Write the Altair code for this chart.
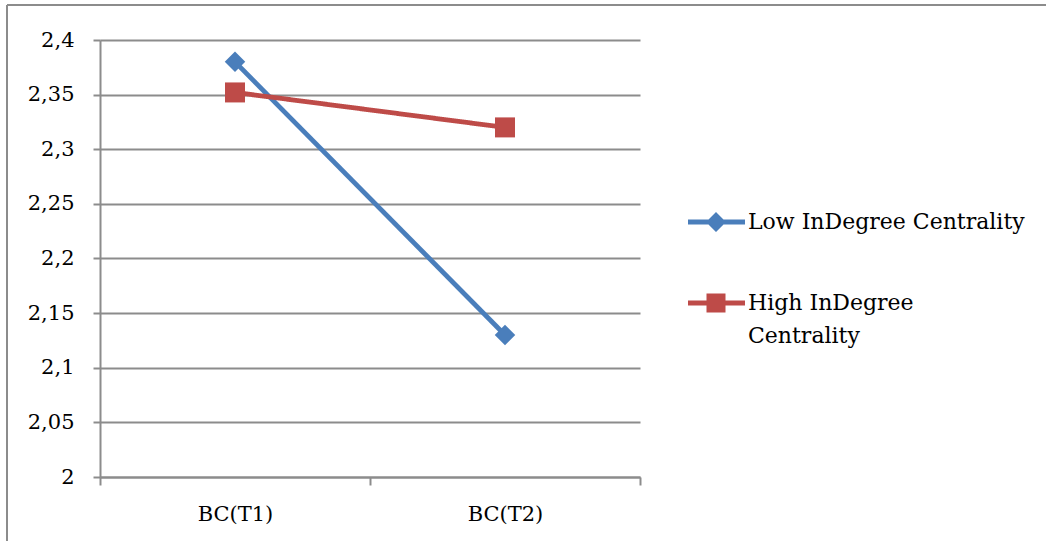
import altair as alt
import pandas as pd

# Chart values
periods = ["BC(T1)", "BC(T2)"]
series_names = ["Low InDegree Centrality", "High InDegree Centrality"]
low_values = [2.38, 2.13]
high_values = [2.352, 2.32]
y_ticks = [2.0, 2.05, 2.1, 2.15, 2.2, 2.25, 2.3, 2.35, 2.4]
series_colors = ["#4A7EBB", "#BE4B48"]

FONT = "DejaVu Serif"
GRAY = "#8c8c8c"

rows = []
for name, vals in zip(series_names, [low_values, high_values]):
    for p, v in zip(periods, vals):
        rows.append({"period": p, "series": name, "value": v})
df = pd.DataFrame(rows)

# Legend glyphs: a line stub with the series marker, drawn left of the label
LOW_GLYPH = "M-49,-2.5H8V2.5H-49Z M-21,-10L-11,0L-21,10L-31,0Z"
HIGH_GLYPH = "M-49,-2.5H8V2.5H-49Z M-30.5,-9.5H-11.5V9.5H-30.5Z"

x_enc = alt.X(
    "period:N",
    scale=alt.Scale(type="band", domain=periods, paddingInner=0, paddingOuter=0),
    bandPosition=0.5,
    axis=alt.Axis(title=None, labelAngle=0, tickBand="extent", grid=False,
                  tickSize=8, labelPadding=18),
)
y_enc = alt.Y(
    "value:Q",
    scale=alt.Scale(domain=[2, 2.4], nice=False, zero=False),
    axis=alt.Axis(title=None, values=y_ticks, grid=True, tickSize=7, labelPadding=19,
                  labelExpr="replace(toString(datum.value), '.', ',')"),
)

common_legend = dict(
    orient="none", legendX=626, symbolSize=4, symbolStrokeWidth=0,
    labelFont=FONT, labelFontSize=22, labelColor="black", labelOffset=0,
    labelLimit=400, padding=0,
)


def series_layer(name, color, shape, size, legend, wrap_legend=None):
    base = alt.Chart(df).transform_filter(alt.datum.series == name)
    scale = alt.Scale(domain=[name], range=[color])
    # tiny points that carry the series legend (hidden under the markers)
    keyed = base.mark_point(filled=True, size=4, opacity=1).encode(
        x=x_enc, y=y_enc, color=alt.Color("series:N", scale=scale, legend=legend)
    )
    line = base.mark_line(strokeWidth=4.8, color=color).encode(x=x_enc, y=y_enc)
    if wrap_legend is not None:
        # second line of a wrapped legend label, as a symbol-less legend row
        line = line.transform_calculate(wrap="'Centrality'").encode(
            strokeDash=alt.StrokeDash(
                "wrap:N",
                scale=alt.Scale(domain=["Centrality"], range=[[1, 0]]),
                legend=wrap_legend,
            )
        )
    markers = base.mark_point(
        filled=True, shape=shape, size=size, opacity=1, color=color
    ).encode(x=x_enc, y=y_enc)
    return alt.layer(keyed, line, markers)


low_layer = series_layer(
    series_names[0], series_colors[0], "diamond", 420,
    alt.Legend(title=None, legendY=171, symbolType=LOW_GLYPH, **common_legend),
)

high_layer = series_layer(
    series_names[1], series_colors[1], "square", 400,
    alt.Legend(title=None, legendY=252, labelExpr="'High InDegree'",
               symbolType=HIGH_GLYPH, **common_legend),
    wrap_legend=alt.Legend(title=None, legendY=285, symbolOpacity=0,
                           **common_legend),
)

# Outer frame of the figure
frame_data = alt.Data(values=[{}])
frame_left = alt.Chart(frame_data).mark_rule(color=GRAY, strokeWidth=2).encode(
    x=alt.value(-93), y=alt.value(-35), y2=alt.value(501)
)
frame_top = alt.Chart(frame_data).mark_rule(color=GRAY, strokeWidth=2).encode(
    x=alt.value(-93), x2=alt.value(946), y=alt.value(-35)
)

chart = (
    alt.layer(frame_left, frame_top, low_layer, high_layer)
    .resolve_scale(color="independent")
    .properties(
        width=540,
        height=437,
        padding={"left": 100, "top": 40, "right": 406, "bottom": 64},
        autosize=alt.AutoSizeParams(type="none"),
        background="white",
    )
    .configure_view(stroke=None)
    .configure_axis(
        labelFont=FONT, labelFontSize=21, labelColor="black",
        domainColor=GRAY, domainWidth=2, tickColor=GRAY, tickWidth=2,
        gridColor=GRAY, gridWidth=2,
    )
)

chart.save("out.html", embed_options={"renderer": "svg", "actions": False})
